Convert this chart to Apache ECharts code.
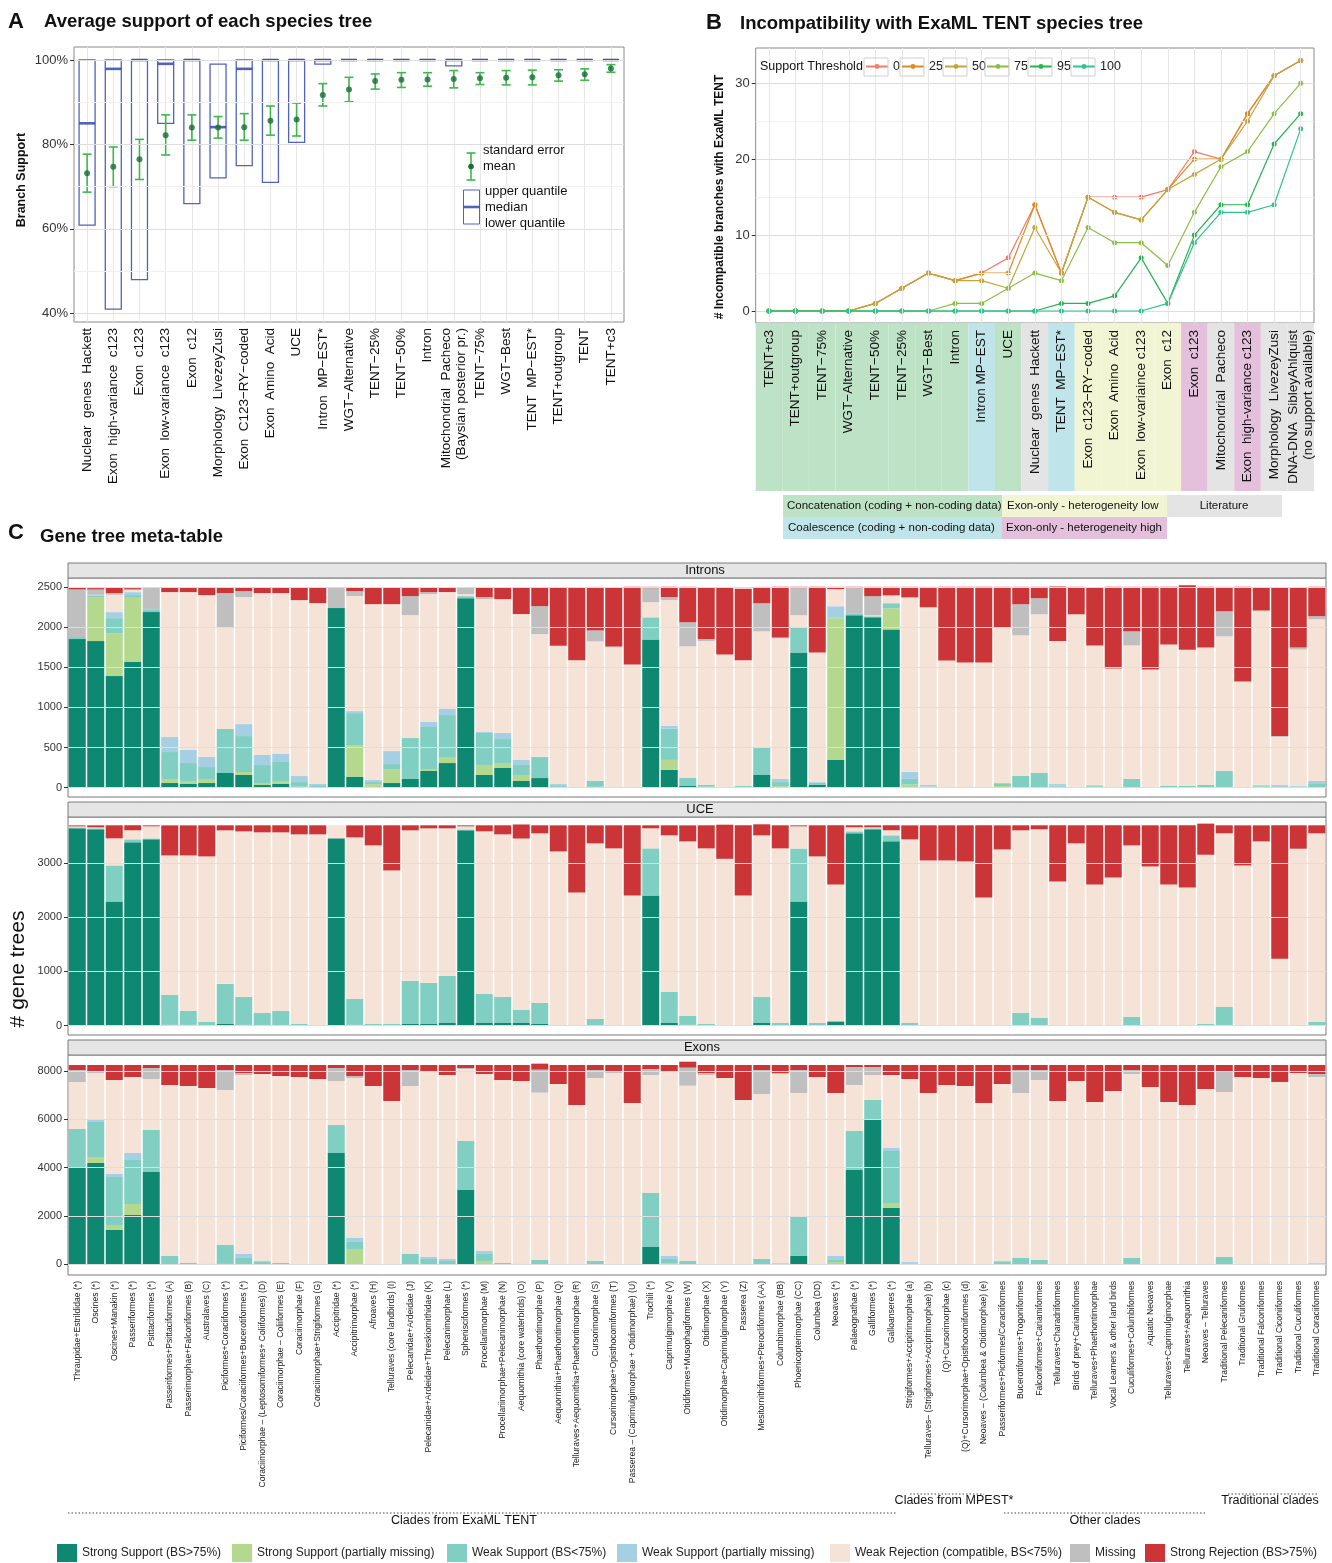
<!DOCTYPE html>
<html>
<head>
<meta charset="utf-8">
<script src="https://cdn.jsdelivr.net/npm/echarts@6/dist/echarts.min.js"></script>
<style>
html,body{margin:0;padding:0;background:#fff}
#main{width:1332px;height:1563px}
</style>
</head>
<body>
<div id="main"></div>
<script>
// ---- panel A: average support of each species tree ----
const supportTrees = ["Nuclear  genes  Hackett", "Exon  high-variance  c123", "Exon  c123", "Exon  low-variance  c123", "Exon  c12",
  "Morphology  LivezeyZusi", "Exon  C123\u2212RY\u2212coded", "Exon  Amino  Acid", "UCE", "Intron  MP\u2212EST*", "WGT\u2212Alternative",
  "TENT\u221225%", "TENT\u221250%", "Intron", "Mitochondrial  Pacheco\n(Baysian posterior pr.)", "TENT\u221275%", "WGT\u2212Best",
  "TENT  MP\u2212EST*", "TENT+outgroup", "TENT", "TENT+c3"];
const boxLower  = [60.9, 41.0, 48.0, 85.0, 66.0, 72.1, 75.0, 71.0, 80.5, 99.0, 100, 100, 100, 100, 98.6, 100, 100, 100, 100, 100, 100];
const boxMedian = [85.0, 97.9, 100, 99.1, 100, 84.1, 97.9, 100, 100, 100, 100, 100, 100, 100, 100, 100, 100, 100, 100, 100, 100];
const boxUpper  = [100, 100, 100, 100, 100, 99.0, 100, 100, 100, 100, 100, 100, 100, 100, 100, 100, 100, 100, 100, 100, 100];
const meanSupport = [73.2, 74.7, 76.5, 82.2, 84.0, 84.0, 84.1, 85.6, 85.9, 91.7, 93.0, 95.0, 95.3, 95.4, 95.5, 95.7, 95.8, 95.9, 96.4, 96.6, 98.0];
const seLow  = [68.7, 70.0, 71.7, 77.5, 81.0, 81.5, 81.0, 82.2, 82.0, 89.1, 90.1, 93.1, 93.5, 93.8, 93.4, 94.2, 94.1, 94.1, 95.0, 95.2, 97.1];
const seHigh = [77.7, 79.4, 81.2, 87.0, 87.0, 86.6, 87.3, 89.1, 89.8, 94.4, 95.9, 96.7, 97.0, 97.0, 97.5, 97.0, 97.5, 97.6, 97.7, 97.9, 98.9];
const supportTicks = [40, 60, 80, 100];
const supportMinor = [50, 70, 90];

// ---- panel B: incompatibility with ExaML TENT ----
const incompTrees = ["TENT+c3", "TENT+outgroup", "TENT\u221275%", "WGT\u2212Alternative", "TENT\u221250%", "TENT\u221225%", "WGT\u2212Best",
  "Intron", "Intron MP\u2212EST", "UCE", "Nuclear  genes  Hackett", "TENT  MP\u2212EST*", "Exon  c123\u2212RY\u2212coded", "Exon  Amino  Acid",
  "Exon  low-variaince c123", "Exon  c12", "Exon  c123", "Mitochondrial  Pacheco", "Exon  high-variance c123",
  "Morphology  LivezeyZusi", "DNA-DNA  SibleyAhlquist\n(no support available)"];
const treeGroup = ["concat", "concat", "concat", "concat", "concat", "concat", "concat", "concat", "coal", "concat", "lit", "coal",
  "low", "low", "low", "low", "high", "lit", "high", "lit", "lit"];
const thresholds = ["0", "25", "50", "75", "95", "100"];
const incompT0   = [0, 0, 0, 0, 1, 3, 5, 4, 5, 7, 14, 5, 15, 15, 15, 16, 21, 20, 26, 31, 33];
const incompT25  = [0, 0, 0, 0, 1, 3, 5, 4, 5, 5, 14, 5, 15, 13, 12, 16, 20, 20, 26, 31, 33];
const incompT50  = [0, 0, 0, 0, 1, 3, 5, 4, 4, 3, 11, 5, 15, 13, 12, 16, 18, 20, 25, 31, 33];
const incompT75  = [0, 0, 0, 0, 0, 0, 0, 1, 1, 3, 5, 4, 11, 9, 9, 6, 13, 19, 21, 26, 30];
const incompT95  = [0, 0, 0, 0, 0, 0, 0, 0, 0, 0, 0, 1, 1, 2, 7, 1, 10, 14, 14, 22, 26];
const incompT100 = [0, 0, 0, 0, 0, 0, 0, 0, 0, 0, 0, 0, 0, 0, 0, 1, 9, 13, 13, 14, 24];
const incompTicks = [0, 10, 20, 30];
const incompMinor = [5, 15, 25];

// ---- panel C: gene tree meta-table ----
const cladeNames = ["Thraupidae+Estrildidae (*)", "Oscines (*)", "Oscines+Manakin (*)", "Passeriformes (*)", "Psittaciformes (*)",
  "Passeriformes+Psittaciformes (A)", "Passerimorphae+Falconiformes (B)", "Australaves (C)", "Piciformes+Coraciiformes (*)",
  "Piciformes/Coraciiformes+Bucerotiformes (*)", "Coraciimorphae \u2013 (Leptosomiformes+ Coliiformes) (D)",
  "Coraciimorphae \u2013 Coliiformes (E)", "Coraciimorphae (F)", "Coraciimorphae+Strigiformes (G)", "Accipitridae (*)",
  "Accipitrimorphae (*)", "Afroaves (H)", "Telluraves (core landbirds) (I)", "Pelecanidae+Ardeidae (J)",
  "Pelecanidae+Ardeidae+Threskiornithidae (K)", "Pelecanimorphae (L)", "Sphenisciformes (*)", "Procellariimorphae (M)",
  "Procellariimorphae+Pelecanimorphae (N)", "Aequornithia (core waterbirds) (O)", "Phaethontimorphae (P)",
  "Aequornithia+Phaethontimorphae (Q)", "Telluraves+Aequornithia+Phaethontimorphae (R)", "Cursorimorphae (S)",
  "Cursorimorphae+Opisthocomiformes (T)", "Passerea \u2013 (Caprimulgimorphae + Otidimorphae) (U)", "Trochili (*)",
  "Caprimulgimorphae (V)", "Otidiformes+Musophagiformes (W)", "Otidimorphae (X)", "Otidimorphae+Caprimulgimorphae (Y)",
  "Passerea (Z)", "Mesitornithiformes+Pterocliformes (AA)", "Columbimorphae (BB)", "Phoenicopterimorphae (CC)",
  "Columbea (DD)", "Neoaves (*)", "Palaeognathae (*)", "Galliformes (*)", "Galloanseres (*)",
  "Strigiformes+Accipitrimorphae (a)", "Telluraves\u2013 (Strigiformes+Acciptrimorphae) (b)", "(Q)+Cursorimorphae (c)",
  "(Q)+Cursorimorphae+Opisthocomiformes (d)", "Neoaves \u2013 (Columbea & Otidimorphae) (e)",
  "Passeriformes+Piciformes/Coraciiformes", "Bucerotiformes+Trogoniformes", "Falconiformes+Cariamiformes",
  "Telluraves+Charadriiformes", "Birds of prey+Cariamiformes", "Telluraves+Phaethontimorphae",
  "Vocal Learners & other land birds", "Cuculiformes+Columbiformes", "Aquatic Neoaves", "Telluraves+Caprimulgimorphae",
  "Telluraves+Aequornithia", "Neoaves \u2013 Telluraves", "Traditional Pelecaniformes", "Traditional Gruiformes",
  "Traditional Falconiformes", "Traditional Ciconiiformes", "Traditional Cuculiformes", "Traditional Coraciiformes"];
const geneClasses = ["Strong Support (BS>75%)", "Strong Support (partially missing)", "Weak Support (BS<75%)",
  "Weak Support (partially missing)", "Weak Rejection (compatible, BS<75%)", "Missing", "Strong Rejection (BS>75%)"];

const intronStrong = [1851,1826,1390,1565,2187,58,46,58,183,158, 33,46,4,0,2237,133,12,58,108,208, 307,2361,158,245,83,120,8,0,12,0,
  0,1847,221,21,0,0,2,158,12,1685, 38,346,2148,2123,1972,0,0,0,0,0, 0,0,0,0,0,0,0,0,0,0, 0,0,0,0,0,0,0,0];
const intronStrongPM = [0,548,535,809,0,50,37,50,0,37, 25,37,8,0,0,398,33,174,0,25, 75,0,125,62,75,0,0,0,0,0,
  0,0,125,0,12,0,8,0,8,0, 0,1764,0,0,263,38,0,0,0,0, 21,0,0,12,0,12,0,0,0,0, 0,0,0,0,12,0,0,0];
const intronWeak = [25,17,187,25,29,336,224,149,548,448, 224,237,58,21,0,398,25,62,510,523, 523,25,398,299,125,261,12,4,71,8,
  0,275,388,100,25,0,12,350,50,313, 25,12,25,12,63,71,12,0,0,0, 25,146,183,12,0,12,0,108,0,21, 21,33,208,0,12,0,12,46];
const intronWeakPM = [0,12,75,37,0,187,162,125,0,149, 125,100,75,25,0,25,25,162,0,62, 75,0,12,75,62,0,25,0,0,0,
  0,0,38,0,0,12,0,0,38,0, 12,138,0,0,0,88,21,0,0,0, 12,0,0,21,12,12,0,0,0,0, 0,0,0,0,12,33,12,38];
const intronWeakRej = [0,0,216,33,0,1805,1967,2017,1270,1581, 2017,2004,2191,2253,0,1432,2191,1830,1531,1594,
  1457,25,1656,1668,1818,1531,1722,1585,1739,1739, 1535,188,1564,1639,1790,1647,1564,1439,1752,150,
  1610,213,0,12,88,2164,2214,1585,1560,1560, 1939,1751,1977,1781,2148,1735,1485,1664,1472,1764, 1697,1714,1676,1322,2160,600,1697,2014];
const intronMissing = [593,66,21,0,274,0,0,0,423,75, 0,0,0,0,253,62,0,0,237,25, 0,79,25,0,0,349,0,0,137,12,
  0,175,38,300,25,0,0,350,12,338, 0,0,313,238,12,12,0,0,0,0, 0,388,200,0,0,0,0,175,0,0, 0,0,313,0,12,12,25,38];
const intronStrongRej = [20,17,66,17,0,54,54,91,66,41, 66,66,154,191,0,41,203,203,104,54, 54,0,116,141,328,228,726,900,542,742,
  967,17,129,442,642,842,892,204,630,17, 817,29,17,117,104,129,254,917,942,942, 505,217,142,680,342,730,1017,555,1030,717,
  805,755,304,1180,292,1856,755,367];

const uceStrong = [3640,3622,2289,3381,3437,18,18,0,31,18, 0,0,0,0,3455,18,0,0,31,31, 49,3603,49,49,49,31,0,0,0,0,
  0,2400,49,18,0,0,0,49,0,2289, 12,68,3548,3622,3400,0,0,0,0,0, 0,0,0,0,0,0,0,0,0,0, 0,0,0,0,0,0,0,0];
const uceStrongPM = [0,0,0,0,0,0,0,0,0,0, 0,0,0,0,0,0,0,0,0,0, 0,0,0,0,0,0,0,0,0,0, 0,0,0,0,0,0,0,0,0,0,
  0,0,0,0,0,0,0,0,0,0, 0,0,0,0,0,0,0,0,0,0, 0,0,0,0,0,0,0,0];
const uceWeak = [18,18,666,56,18,549,253,68,740,512, 234,271,31,12,0,475,31,31,796,759, 870,18,537,481,241,389,18,0,123,18,
  0,870,574,160,31,12,0,481,49,981, 37,18,37,18,111,49,0,0,0,0, 18,234,142,0,0,0,0,160,0,0, 0,31,346,0,12,0,12,68];
const uceWeakPM = [0,0,0,0,0,0,0,0,0,0, 0,0,0,0,0,0,0,0,0,0, 0,0,0,0,0,0,0,0,0,0, 0,0,0,0,0,0,0,0,0,0,
  0,0,0,0,0,0,0,0,0,0, 0,0,0,0,0,0,0,0,0,0, 0,0,0,0,0,0,0,0];
const uceWeakRej = [18,18,500,167,222,2573,2869,3054,2832,3054, 3332,3295,3498,3517,241,2980,3295,2832,2776,2850,
  2721,56,2999,2999,3162,3128,3196,2456,3239,3252, 2400,370,2888,3221,3239,3066,2400,2980,3221,407,
  3073,2517,74,18,93,3387,3048,3048,3030,2363, 3233,3369,3480,2659,3363,2604,2733,3165,2937,2604, 2548,3122,3202,2955,3387,1234,3252,3480];
const uceMissing = [0,0,0,0,0,0,0,0,0,0, 0,0,0,0,0,0,0,0,0,0, 0,0,0,0,0,0,0,0,0,0, 0,0,0,0,0,0,0,0,0,0,
  0,0,0,0,0,0,0,0,0,0, 0,0,0,0,0,0,0,0,0,0, 0,0,0,0,0,0,0,0];
const uceStrongRej = [18,37,241,93,18,555,555,574,93,111, 130,130,167,167,0,222,370,833,93,56, 56,18,111,167,259,148,481,1240,333,426,
  1296,56,185,296,426,629,1296,204,426,18, 574,1092,37,37,93,259,648,648,666,1333, 444,93,74,1037,333,1092,963,370,759,1092,
  1148,574,148,740,296,2462,432,148];

const exonStrong = [3985,4192,1420,2041,3820,0,0,0,28,0, 0,0,0,0,4606,0,0,0,0,0, 0,3075,0,0,0,0,0,0,0,0,
  0,717,0,0,0,0,0,0,0,345, 0,28,3903,6012,2331,0,0,0,0,0, 0,0,0,0,0,0,0,0,0,0, 0,0,0,0,0,0,0,0];
const exonStrongPM = [0,248,207,455,0,0,0,0,0,0, 0,0,0,0,0,634,0,0,0,0, 0,0,138,0,0,0,0,0,0,0,
  0,0,28,0,0,0,0,0,0,0, 0,69,0,0,207,28,0,0,0,0, 0,0,0,0,0,0,0,0,0,0, 0,0,0,0,0,0,0,0];
const exonWeak = [1613,1448,1986,1820,1738,345,55,28,772,262, 97,55,0,0,1158,290,0,0,427,221, 138,2027,290,55,28,179,0,0,138,0,
  0,2234,193,138,14,0,0,221,28,1613, 0,83,1613,786,2151,28,0,0,0,0, 97,262,179,0,0,0,0,262,0,0, 0,0,303,0,28,0,0,28];
const exonWeakPM = [0,83,124,290,0,0,0,0,0,165, 41,0,28,0,0,165,0,0,0,83, 83,0,124,0,0,0,0,0,0,28,
  0,0,124,0,0,0,0,0,28,0, 0,165,0,0,124,41,0,0,0,0, 41,0,0,0,0,0,0,0,0,0, 0,0,0,0,0,28,28,41];
const exonWeakRej = [1944,1944,3889,3144,2110,7074,7322,7267,6412,7405, 7736,7736,7722,7667,1820,6619,7378,6757,6950,7653,
  7612,2979,7322,7571,7557,6923,7460,6592,7571,7888, 6674,4882,7612,7253,7819,7709,6798,6826,7819,5130,
  7750,6743,1903,1034,3020,7571,7088,7419,7378,6674, 7322,6826,7447,6757,7585,6716,7171,7612,7336,6716, 6592,7253,6826,7750,7681,7516,7888,7681];
const exonMissing = [496,41,0,0,455,0,0,0,827,83, 0,0,0,0,538,83,0,0,662,0, 0,41,0,0,0,952,0,0,331,41,
  0,248,0,745,83,0,0,993,41,952, 0,0,745,331,0,0,0,0,0,0, 0,952,414,0,0,0,0,165,0,0, 0,0,869,0,0,0,0,124];
const exonStrongRej = [207,290,621,496,124,827,869,952,207,331, 372,455,496,579,124,455,869,1489,207,290, 414,124,372,621,662,248,786,1655,207,290,
  1572,165,290,248,331,538,1448,207,331,207, 496,1158,83,83,414,579,1158,827,869,1572, 786,207,207,1489,662,1531,1076,207,910,1531,
  1655,993,248,496,538,703,331,372];

const intronTicks = [0, 500, 1000, 1500, 2000, 2500];
const uceTicks = [0, 1000, 2000, 3000];
const exonTicks = [0, 2000, 4000, 6000, 8000];

// ---- styles ----
const FONT = "Liberation Sans, Arial, sans-serif";
const classColors = ["#0f8872", "#b3d88e", "#81cec2", "#a6cfe4", "#f5e3d7", "#bfbfbf", "#cb3537"];
const thresholdColors = ["#f47c6a", "#dc8c22", "#c3a53c", "#8dbd46", "#27b34e", "#2ec28f"];
const groupColors = {concat: "#bde2c6", coal: "#bfe4e9", lit: "#e4e4e4", low: "#f2f5d3", high: "#e4c0dc"};
const gridMajor = "#dedede";
const gridMinor = "#f0f0f0";

const chart = echarts.init(document.getElementById("main"));

function boxItem(params, api) {
  const i = api.value(0);
  const top = api.coord([i, api.value(3)]);
  const low = api.coord([i, api.value(1)]);
  const med = api.coord([i, api.value(2)]);
  const w = 16;
  const col = "rgba(52,72,178,0.85)";
  return {type: "group", children: [
    {type: "rect", shape: {x: top[0] - w / 2, y: top[1], width: w, height: low[1] - top[1]},
     style: {fill: "none", stroke: col, lineWidth: 1.3}},
    {type: "line", shape: {x1: top[0] - w / 2, y1: med[1], x2: top[0] + w / 2, y2: med[1]},
     style: {stroke: col, lineWidth: 2.6}}
  ]};
}

function errItem(params, api) {
  const i = api.value(0);
  const lo = api.coord([i, api.value(1)]);
  const hi = api.coord([i, api.value(2)]);
  const c = 4.5;
  const st = {stroke: "#3db84b", lineWidth: 1.6};
  return {type: "group", children: [
    {type: "line", shape: {x1: lo[0], y1: lo[1], x2: hi[0], y2: hi[1]}, style: st},
    {type: "line", shape: {x1: lo[0] - c, y1: lo[1], x2: lo[0] + c, y2: lo[1]}, style: st},
    {type: "line", shape: {x1: hi[0] - c, y1: hi[1], x2: hi[0] + c, y2: hi[1]}, style: st}
  ]};
}

// horizontal grid lines drawn behind the marks
function gridLines(xi, yi, major, minor) {
  const lines = major.map(v => ({yAxis: v, lineStyle: {color: gridMajor, width: 1}}))
    .concat(minor.map(v => ({yAxis: v, lineStyle: {color: gridMinor, width: 1}})));
  return {type: "line", xAxisIndex: xi, yAxisIndex: yi, data: [], z: 0, silent: true,
    markLine: {silent: true, symbol: "none", label: {show: false}, animation: false,
      lineStyle: {type: "solid"}, data: lines}};
}

const series = [];
series.push(gridLines(0, 0, supportTicks, supportMinor));
series.push({type: "custom", name: "quantiles", xAxisIndex: 0, yAxisIndex: 0, renderItem: boxItem, z: 3,
  encode: {x: 0, y: [1, 2, 3]},
  data: supportTrees.map((t, i) => [i, boxLower[i], boxMedian[i], boxUpper[i]])});
series.push({type: "custom", name: "standard error", xAxisIndex: 0, yAxisIndex: 0, renderItem: errItem, z: 4,
  encode: {x: 0, y: [1, 2]},
  data: supportTrees.map((t, i) => [i, seLow[i], seHigh[i]])});
series.push({type: "scatter", name: "mean", xAxisIndex: 0, yAxisIndex: 0, data: meanSupport, z: 5,
  symbolSize: 6, itemStyle: {color: "#1d6b38"}});

series.push(gridLines(1, 1, incompTicks, incompMinor));
[incompT0, incompT25, incompT50, incompT75, incompT95, incompT100].forEach((vals, k) => {
  series.push({type: "line", name: thresholds[k], xAxisIndex: 1, yAxisIndex: 1, data: vals, z: 3 + k,
    symbol: "circle", symbolSize: 5, showSymbol: true,
    lineStyle: {width: 1.2, color: thresholdColors[k]}, itemStyle: {color: thresholdColors[k]}});
});
series.push({type: "bar", name: "group", xAxisIndex: 2, yAxisIndex: 2, silent: true, barCategoryGap: "0%", z: 1,
  data: incompTrees.map((t, i) => ({value: 1, itemStyle: {color: groupColors[treeGroup[i]]}}))});

const geneSets = [
  {stack: "introns", ticks: intronTicks, data: [intronStrong, intronStrongPM, intronWeak, intronWeakPM, intronWeakRej, intronMissing, intronStrongRej]},
  {stack: "uce", ticks: uceTicks, data: [uceStrong, uceStrongPM, uceWeak, uceWeakPM, uceWeakRej, uceMissing, uceStrongRej]},
  {stack: "exons", ticks: exonTicks, data: [exonStrong, exonStrongPM, exonWeak, exonWeakPM, exonWeakRej, exonMissing, exonStrongRej]}
];
geneSets.forEach((set, g) => {
  series.push(gridLines(3 + g, 3 + g, set.ticks, []));
  set.data.forEach((vals, k) => {
    series.push({type: "bar", name: geneClasses[k], stack: set.stack, xAxisIndex: 3 + g, yAxisIndex: 3 + g,
      data: vals, barCategoryGap: "8%", itemStyle: {color: classColors[k]}, z: 2});
  });
});

const tickStyle = {color: "#333", width: 1};
const catLabel = {rotate: 90, interval: 0, color: "#111", fontFamily: FONT};

const xAxis = [
  {gridIndex: 0, type: "category", data: supportTrees, axisLine: {show: false},
   axisTick: {alignWithLabel: true, length: 4, lineStyle: tickStyle},
   axisLabel: Object.assign({}, catLabel, {fontSize: 13.5, margin: 6, lineHeight: 15}),
   splitLine: {show: true, alignWithLabel: true, lineStyle: {color: "#e6e6e6"}}},
  {gridIndex: 1, type: "category", data: incompTrees, z: 10, axisLine: {show: false},
   axisTick: {alignWithLabel: true, length: 4, lineStyle: tickStyle},
   axisLabel: Object.assign({}, catLabel, {fontSize: 13.5, margin: 7, lineHeight: 15}),
   splitLine: {show: true, alignWithLabel: true, lineStyle: {color: "#e6e6e6"}}},
  {gridIndex: 2, type: "category", data: incompTrees, show: false},
  {gridIndex: 3, type: "category", data: cladeNames, axisLine: {show: false}, axisTick: {show: false}, axisLabel: {show: false}},
  {gridIndex: 4, type: "category", data: cladeNames, axisLine: {show: false}, axisTick: {show: false}, axisLabel: {show: false}},
  {gridIndex: 5, type: "category", data: cladeNames, axisLine: {show: false},
   axisTick: {alignWithLabel: true, length: 4, lineStyle: tickStyle},
   axisLabel: Object.assign({}, catLabel, {fontSize: 8.6, margin: 6, color: "#222"})}
];

function valAxis(gi, min, max, ticks, fmt, size) {
  return {gridIndex: gi, type: "value", min: min, max: max, axisLine: {show: false}, splitLine: {show: false},
    axisTick: {show: true, length: 4, customValues: ticks, lineStyle: tickStyle},
    axisLabel: {customValues: ticks, formatter: fmt, fontSize: size, color: "#333", margin: 6, fontFamily: FONT}};
}
const plain = v => String(v);
const yAxis = [
  valAxis(0, 37.94, 103.08, supportTicks, v => v + "%", 13),
  valAxis(1, -1.58, 34.65, incompTicks, plain, 13),
  {gridIndex: 2, type: "value", min: 0, max: 1, show: false},
  valAxis(3, -116, 2612, intronTicks, plain, 11),
  valAxis(4, -172, 3849, uceTicks, plain, 11),
  valAxis(5, -443, 8660, exonTicks, plain, 11)
];

const frame = {show: true, borderColor: "#8a8a8a", borderWidth: 1, backgroundColor: "#fff"};
const grid = [
  Object.assign({left: 74, top: 47, width: 550, height: 275}, frame),
  Object.assign({left: 755.7, top: 48, width: 558.3, height: 275}, frame),
  {left: 755.7, top: 323, width: 558.3, height: 168, show: false},
  Object.assign({left: 68, top: 578, width: 1258, height: 219}, frame, {borderColor: "#7a7a7a"}),
  Object.assign({left: 68, top: 817, width: 1258, height: 218}, frame, {borderColor: "#7a7a7a"}),
  Object.assign({left: 68, top: 1055, width: 1258, height: 220}, frame, {borderColor: "#7a7a7a"})
];

// legends: panel B thresholds and panel C classes, one component per item
const thresholdLeft = [865, 901, 944, 986, 1029, 1072];
const classLeft = [57, 232, 447, 617, 830, 1070, 1145];
const legend = thresholds.map((t, k) => ({
  data: [t], left: thresholdLeft[k], top: 60, padding: 0, itemWidth: 22, itemHeight: 6, itemGap: 0, z: 20,
  textStyle: {fontSize: 12.5, color: "#222", fontFamily: FONT}, selectedMode: false
})).concat(geneClasses.map((c, k) => ({
  data: [{name: c, icon: "rect"}], left: classLeft[k], top: 1544, padding: 0, itemWidth: 20, itemHeight: 18, itemGap: 0,
  textStyle: {fontSize: 12, color: "#222", fontFamily: FONT}, selectedMode: false
})));

function txt(x, y, text, font, align, extra) {
  return Object.assign({type: "text", x: x, y: y, silent: true, z: 50,
    style: {text: text, font: font, fill: "#111", textAlign: align || "left", textVerticalAlign: "middle"}}, extra || {});
}
function box(x, y, w, h, fill, stroke) {
  return {type: "rect", silent: true, z: 40, shape: {x: x, y: y, width: w, height: h},
    style: {fill: fill, stroke: stroke || "none", lineWidth: 1}};
}
function dotted(x1, x2, y) {
  return {type: "line", silent: true, z: 40, shape: {x1: x1, y1: y, x2: x2, y2: y},
    style: {stroke: "#444", lineWidth: 1, lineDash: [1.5, 2]}};
}
function seg(x1, y1, x2, y2, color, w) {
  return {type: "line", silent: true, z: 50, shape: {x1: x1, y1: y1, x2: x2, y2: y2}, style: {stroke: color, lineWidth: w}};
}

const graphic = [
  // titles
  txt(8, 22, "A", "bold 22px " + FONT),
  txt(44, 22, "Average support of each species tree", "bold 18.5px " + FONT),
  txt(706, 23, "B", "bold 22px " + FONT),
  txt(740, 24, "Incompatibility with ExaML TENT species tree", "bold 18.5px " + FONT),
  txt(8, 533, "C", "bold 22px " + FONT),
  txt(40, 537, "Gene tree meta-table", "bold 18.5px " + FONT),
  // axis titles
  txt(22, 180, "Branch Support", "bold 12.5px " + FONT, "center", {rotation: Math.PI / 2}),
  txt(720, 197, "# Incompatible branches with ExaML TENT", "bold 12px " + FONT, "center", {rotation: Math.PI / 2}),
  txt(18, 969, "# gene trees", "21px " + FONT, "center", {rotation: Math.PI / 2}),
  // panel A legend
  seg(471, 153, 471, 180, "#3db84b", 1.6),
  seg(466.5, 153, 475.5, 153, "#3db84b", 1.6),
  seg(466.5, 180, 475.5, 180, "#3db84b", 1.6),
  {type: "circle", silent: true, z: 50, shape: {cx: 471, cy: 166.5, r: 2.8}, style: {fill: "#1d6b38"}},
  txt(483, 150, "standard error", "13px " + FONT),
  txt(483, 166, "mean", "13px " + FONT),
  box(463.5, 190, 16, 34, "none", "rgba(52,72,178,0.85)"),
  seg(463.5, 207, 479.5, 207, "rgba(52,72,178,0.85)", 2.6),
  txt(485, 191, "upper quantile", "13px " + FONT),
  txt(485, 207, "median", "13px " + FONT),
  txt(485, 223, "lower quantile", "13px " + FONT),
  // panel B legend
  txt(760, 67, "Support Threshold", "12.5px " + FONT)
].concat(thresholdLeft.map(x => box(x - 1, 58, 24, 18, "rgba(255,255,255,0)", "#cfcfcf"))).concat([
  // panel B group key
  box(783, 495, 219, 22, groupColors.concat),
  txt(787, 506, "Concatenation (coding + non-coding data)", "11.5px " + FONT),
  box(1002, 495, 165, 22, groupColors.low),
  txt(1007, 506, "Exon-only - heterogeneity low", "11.5px " + FONT),
  box(1167, 495, 115, 22, groupColors.lit),
  txt(1224, 506, "Literature", "11.5px " + FONT, "center"),
  box(783, 517, 219, 22, groupColors.coal),
  txt(788, 528, "Coalescence (coding + non-coding data)", "11.5px " + FONT),
  box(1002, 517, 165, 22, groupColors.high),
  txt(1006, 528, "Exon-only - heterogeneity high", "11.5px " + FONT),
  // panel C strips
  box(68, 563, 1258, 15, "#e5e5e5", "#7a7a7a"),
  txt(705, 570.5, "Introns", "13px " + FONT, "center"),
  box(68, 802, 1258, 15, "#e5e5e5", "#7a7a7a"),
  txt(700, 809.5, "UCE", "13px " + FONT, "center"),
  box(68, 1040, 1258, 15, "#e5e5e5", "#7a7a7a"),
  txt(702, 1047.5, "Exons", "13px " + FONT, "center"),
  // clade group annotations
  dotted(910, 984, 1494),
  txt(954, 1501, "Clades from MPEST*", "12.5px " + FONT, "center"),
  dotted(1228, 1318, 1494),
  txt(1270, 1501, "Traditional clades", "12.5px " + FONT, "center"),
  dotted(68, 897, 1513),
  txt(464, 1521, "Clades from ExaML TENT", "12.5px " + FONT, "center"),
  dotted(1004, 1207, 1513),
  txt(1105, 1521, "Other clades", "12.5px " + FONT, "center")
]);

chart.setOption({
  animation: false,
  textStyle: {fontFamily: FONT},
  grid: grid,
  xAxis: xAxis,
  yAxis: yAxis,
  legend: legend,
  series: series,
  graphic: graphic
});
</script>
</body>
</html>
